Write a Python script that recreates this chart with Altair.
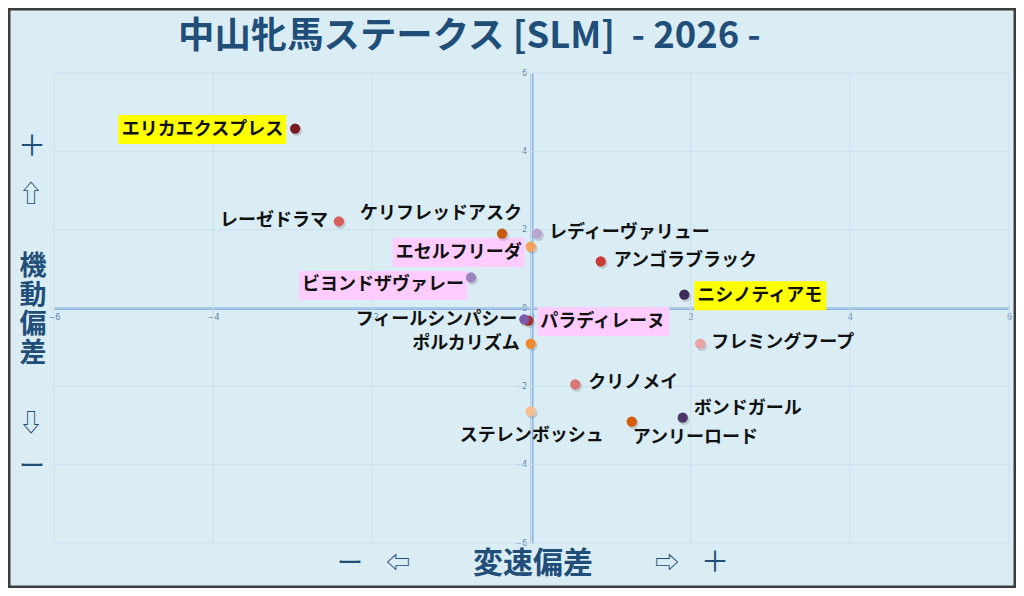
import altair as alt
import pandas as pd

# ---------------- data ----------------
names = ["エリカエクスプレス", "レーゼドラマ", "ケリフレッドアスク", "レディーヴァリュー",
         "エセルフリーダ", "ビヨンドザヴァレー", "アンゴラブラック", "ニシノティアモ",
         "パラディレーヌ", "フィールシンパシー", "ポルカリズム", "フレミングフープ",
         "クリノメイ", "ボンドガール", "アンリーロード", "ステレンボッシュ"]
speed = [-2.97, -2.42, -0.37, 0.07, -0.01, -0.76, 0.87, 1.92,
         -0.04, -0.09, -0.01, 2.12, 0.55, 1.90, 1.26, -0.01]
mobility = [4.58, 2.21, 1.90, 1.90, 1.57, 0.78, 1.19, 0.34,
            -0.32, -0.29, -0.91, -0.91, -1.95, -2.80, -2.90, -2.64]
dot_colors = ["#7a1c1f", "#d65f5c", "#c45a10", "#b9a6cf", "#f2a15e", "#9c86c0",
              "#c73c36", "#3f2b57", "#a8302c", "#7c59a8", "#ee8a2d", "#e8a3a2",
              "#d97573", "#4b3569", "#d65a08", "#f6be8e"]
highlight = ["yellow", "", "", "", "pink", "pink", "", "yellow",
             "pink", "", "", "", "", "", "", ""]
tick_values = [-6, -4, -2, 0, 2, 4, 6]

# ---------------- label layout (px offsets from the dot) ----------------
label_align = ["right", "right", "right", "left", "right", "right", "left", "left",
               "left", "right", "right", "left", "left", "left", "left", "center"]
label_dx = [-12, -11, 20, 12, -9, -7, 13, 13, 12, -7, -11, 11, 13, 11, 1, 1]
label_dy = [1, 0, -20, -1, 6, 8, 0, 1, 1, 1, 0, -1, -1, -9, 16, 25]

W, H = 955, 470
SX, SY = W / 12.0, H / 12.0
FS = 18
PAD = 3
BOXH = 29
BG = "#daedf4"
GRID = "#cae0ee"
AXIS = "#8db4e2"
NAVY = "#1f4e79"
FONT = "Noto Sans CJK JP"

df = pd.DataFrame({"name": names, "x": speed, "y": mobility, "c": dot_colors,
                   "hl": highlight, "al": label_align, "dx": label_dx, "dy": label_dy})
df["lx"] = df["x"] + df["dx"] / SX
df["ly"] = df["y"] - df["dy"] / SY
tw = df["name"].str.len() * FS
left_px = df["dx"].where(df["al"] == "left", df["dx"] - tw)
left_px = left_px.where(df["al"] != "center", df["dx"] - tw / 2)
df["bx1"] = df["x"] + (left_px - PAD) / SX
df["bx2"] = df["x"] + (left_px + tw + PAD) / SX
df["by1"] = df["y"] - (df["dy"] - BOXH / 2) / SY
df["by2"] = df["y"] - (df["dy"] + BOXH / 2) / SY
df["sx"] = df["x"] + 1.5 / SX
df["sy"] = df["y"] - 2.0 / SY
df["hlc"] = df["hl"].map({"yellow": "#ffff00", "pink": "#ffccff", "": "none"})

xs = alt.Scale(domain=[-6, 6], nice=False, zero=False)
ys = alt.Scale(domain=[-6, 6], nice=False, zero=False)
ax_x = alt.Axis(values=tick_values, offset=-H / 2, grid=False, ticks=False,
                domainColor=AXIS, domainWidth=3, labelFontSize=8, labelColor="#5f7fa8",
                labelPadding=5, labelFlush=False, labelOverlap=False, title=None,
                labelFont="DejaVu Sans")
ax_y = alt.Axis(values=tick_values, offset=-W / 2, grid=False, ticks=False,
                domainColor=AXIS, domainWidth=3, labelFontSize=8, labelColor="#5f7fa8",
                labelPadding=5, labelFlush=False, labelOverlap=False, title=None,
                labelFont="DejaVu Sans")


def X(f):
    return alt.X(f, type="quantitative", scale=xs, axis=ax_x)


def Y(f):
    return alt.Y(f, type="quantitative", scale=ys, axis=ax_y)


grid_df = pd.DataFrame({"g": tick_values})
gx = alt.Chart(grid_df).mark_rule(color=GRID, strokeWidth=1).encode(x=X("g"))
gy = alt.Chart(grid_df).mark_rule(color=GRID, strokeWidth=1).encode(y=Y("g"))

boxes = alt.Chart(df[df["hl"] != ""]).mark_rect().encode(
    x=X("bx1"), x2="bx2", y=Y("by1"), y2="by2",
    fill=alt.Fill("hlc:N", scale=None))

shadow = alt.Chart(df).mark_circle(size=115, opacity=0.22, color="#555555").encode(
    x=X("sx"), y=Y("sy"))
dots = alt.Chart(df).mark_circle(size=105, opacity=1).encode(
    x=X("x"), y=Y("y"), color=alt.Color("c:N", scale=None))

label_layers = []
for a in ["left", "right", "center"]:
    sub = df[df["al"] == a]
    label_layers.append(
        alt.Chart(sub).mark_text(align=a, baseline="middle", font=FONT, fontSize=FS,
                                 fontWeight="bold", color="#111111").encode(
            x=X("lx"), y=Y("ly"), text="name:N"))

one = alt.Data(values=[{}])


def deco(text, x, y, size, weight="normal", align="center", baseline="middle", lh=None):
    kw = dict(align=align, baseline=baseline, font=FONT, fontSize=size,
              fontWeight=weight, color=NAVY)
    if lh is not None:
        kw["lineHeight"] = lh
    return alt.Chart(one).mark_text(**kw).encode(
        x=alt.value(x), y=alt.value(y), text=alt.value(text))


decos = [
    deco("中山牝馬ステークス [SLM]\u00a0\u00a0- 2026 -", 124, -36, 36.4, weight="bold", align="left"),
    deco("ー", 296, 491, 26),
    deco("⇦", 344, 491, 24),
    deco("変速偏差", 479, 491, 30, weight="bold"),
    deco("⇨", 613, 491, 24),
    deco("＋", 661, 491, 28),
    deco("＋", -22, 75, 28),
    deco("⇧", -23, 122, 24),
    deco(["機", "動", "偏", "差"], -21, 181, 27, weight="bold", baseline="top", lh=29),
    deco("⇩", -23, 351, 24),
    deco("ー", -22, 394, 26),
]

frame = alt.Chart(one).mark_rect(fill=None, stroke="#3c3c3c", strokeWidth=3).encode(
    x=alt.value(-45), x2=alt.value(961), y=alt.value(-64), y2=alt.value(514))

chart = alt.layer(gx, gy, boxes, shadow, dots, *label_layers, *decos, frame).properties(
    width=W, height=H,
    padding={"left": 46, "top": 65, "right": 7, "bottom": 45},
    autosize=alt.AutoSizeParams(type="none"),
    background=BG,
).configure_view(stroke=None)

chart.save("out.html", embed_options={"renderer": "svg", "actions": False})
